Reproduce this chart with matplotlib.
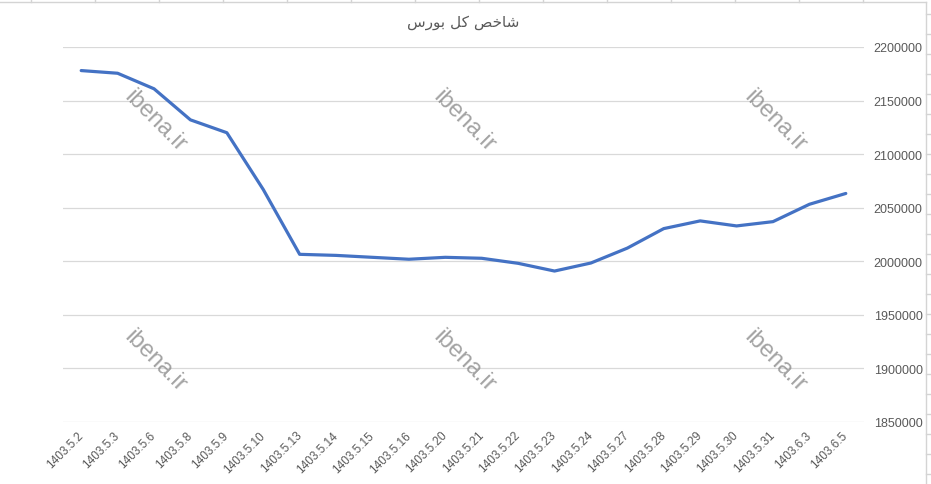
import matplotlib
matplotlib.use("Agg")
import matplotlib.pyplot as plt
from matplotlib.lines import Line2D

dates = ["1403.5.2", "1403.5.3", "1403.5.6", "1403.5.8", "1403.5.9", "1403.5.10",
         "1403.5.13", "1403.5.14", "1403.5.15", "1403.5.16", "1403.5.20", "1403.5.21",
         "1403.5.22", "1403.5.23", "1403.5.24", "1403.5.27", "1403.5.28", "1403.5.29",
         "1403.5.30", "1403.5.31", "1403.6.3", "1403.6.5"]
index_values = [2178000, 2175500, 2161000, 2132000, 2120000, 2067000,
                2006500, 2005500, 2003700, 2001900, 2003700, 2002800,
                1998100, 1990900, 1998400, 2012300, 2030500, 2037700,
                2033000, 2037000, 2053200, 2063300]
y_ticks = [1850000, 1900000, 1950000, 2000000, 2050000, 2100000, 2150000, 2200000]
title = "شاخص کل بورس"
watermark = "ibena.ir"

# minimal arabic shaping (matplotlib has no text shaping)
FORMS = {  # isolated, final, initial, medial
    "ش": ("\uFEB5", "\uFEB6", "\uFEB7", "\uFEB8"),
    "ا": ("\uFE8D", "\uFE8E", None, None),
    "خ": ("\uFEA5", "\uFEA6", "\uFEA7", "\uFEA8"),
    "ص": ("\uFEB9", "\uFEBA", "\uFEBB", "\uFEBC"),
    "ک": ("\uFB8E", "\uFB8F", "\uFB90", "\uFB91"),
    "ل": ("\uFEDD", "\uFEDE", "\uFEDF", "\uFEE0"),
    "ب": ("\uFE8F", "\uFE90", "\uFE91", "\uFE92"),
    "و": ("\uFEED", "\uFEEE", None, None),
    "ر": ("\uFEAD", "\uFEAE", None, None),
    "س": ("\uFEB1", "\uFEB2", "\uFEB3", "\uFEB4"),
}


def shape(s):
    out = []
    for i, c in enumerate(s):
        if c not in FORMS:
            out.append(c)
            continue
        prev = s[i - 1] if i > 0 else None
        nxt = s[i + 1] if i < len(s) - 1 else None
        join_prev = prev in FORMS and FORMS[prev][2] is not None
        join_next = nxt in FORMS and FORMS[c][2] is not None
        f = FORMS[c]
        if join_prev and join_next:
            out.append(f[3])
        elif join_prev:
            out.append(f[1])
        elif join_next:
            out.append(f[2])
        else:
            out.append(f[0])
    return "".join(out)[::-1]


plt.rcParams["font.family"] = ["Liberation Sans", "DejaVu Sans"]

W, H = 931, 485
fig = plt.figure(figsize=(W / 100, H / 100), dpi=100)
ax = fig.add_axes([63 / W, 1 - 423 / H, (864 - 63) / W, (423 - 48) / H])

x = list(range(len(dates)))
ax.plot(x, index_values, color="#4472C4", linewidth=2.3, solid_capstyle="round", zorder=3)

ax.set_xlim(-0.5, len(dates) - 0.5)
ax.set_ylim(y_ticks[0], y_ticks[-1])
ax.set_yticks(y_ticks)
ax.set_yticklabels([str(v) for v in y_ticks])
ax.yaxis.tick_right()
ax.grid(axis="y", color="#D9D9D9", linewidth=0.9)
ax.set_axisbelow(True)
ax.set_xticks(x)
ax.set_xticklabels(dates, rotation=45, ha="right", va="center", rotation_mode="anchor")
ax.tick_params(axis="y", length=0, pad=7, labelsize=9, labelcolor="#595959")
ax.tick_params(axis="x", length=0, pad=8, labelsize=8.5, labelcolor="#595959")
for sp in ax.spines.values():
    sp.set_visible(False)

fig.text(0.497, 1 - 23 / H, shape(title), ha="center", va="center",
         fontsize=11, color="#595959", family="DejaVu Sans")

for cx in (155, 464, 775):
    for cy in (121, 361):
        fig.text(cx / W, 1 - cy / H, watermark, rotation=-45, ha="center", va="center",
                 fontsize=17, color="#8c8c8c", alpha=0.8, zorder=5)

# spreadsheet cell borders around the chart
grid_c = "#D4D4D4"
fig.add_artist(Line2D([0, 926 / W], [1 - 2.5 / H] * 2, color=grid_c, lw=1))
fig.add_artist(Line2D([926 / W] * 2, [0, 1 - 2.5 / H], color=grid_c, lw=1))
for col in range(31, 926, 64):
    fig.add_artist(Line2D([col / W] * 2, [1 - 2.5 / H, 1], color=grid_c, lw=1))
for row in range(15, H, 20):
    fig.add_artist(Line2D([926 / W, 1], [1 - row / H] * 2, color=grid_c, lw=1))

fig.savefig("out.png", dpi=100)
